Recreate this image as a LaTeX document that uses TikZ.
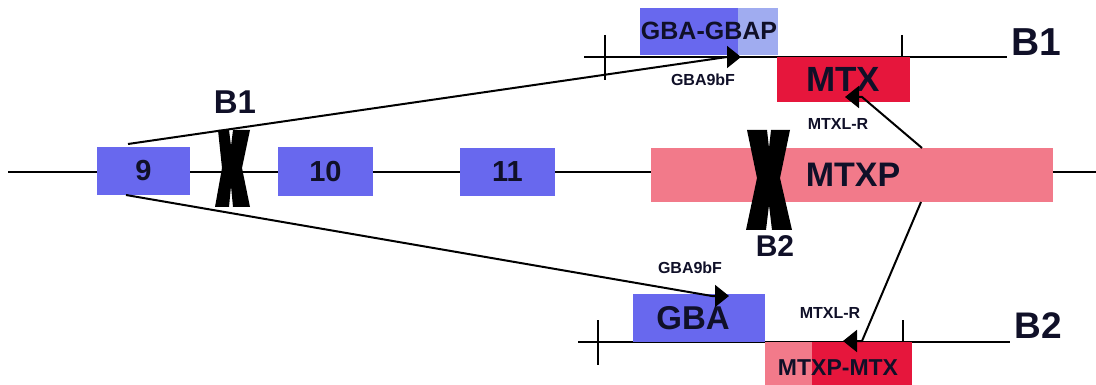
\documentclass[tikz,border=0pt]{standalone}
\usepackage{fontspec}
\setmainfont{Liberation Sans}
\usetikzlibrary{arrows.meta}
\definecolor{exonblue}{RGB}{104,104,238}
\definecolor{paleblue}{RGB}{160,172,240}
\definecolor{mtxppink}{RGB}{242,122,138}
\definecolor{mtxred}{RGB}{230,22,60}
\definecolor{ink}{RGB}{16,16,40}
\begin{document}
\begin{tikzpicture}[x=1pt,y=-1pt,
  box/.style={draw=none,inner sep=0pt,outer sep=0pt,font=\bfseries,text=ink},
  lbl/.style={inner sep=0pt,font=\bfseries,text=ink},
  rail/.style={line width=2pt},
  tick/.style={line width=1.1pt},
  link/.style={line width=2pt},
  bigtip/.style={-{Triangle[length=14pt,width=22pt]}},
  cross/.style={fill=black}]
\useasboundingbox (0,0) rectangle (1096,385);

% genomic line
\coordinate (L0) at (8,172);
\coordinate (L1) at (1096,172);
\draw[rail] (L0) -- (L1);

% product lines B1 and B2
\coordinate (T0) at (584,57);
\coordinate (T1) at (1007,57);
\coordinate (U0) at (578,342);
\coordinate (U1) at (1010,342);
\draw[rail] (T0) -- (T1);
\draw[rail] (U0) -- (U1);
\foreach \x in {605,902} \draw[tick] (\x,35) -- (\x,80);
\foreach \x in {598,903} \draw[tick] (\x,320) -- (\x,365);

% exons
\node[box,fill=exonblue,minimum width=93pt,minimum height=48pt,font=\bfseries\fontsize{29}{29}\selectfont] (e9) at (143.5,171) {9};
\node[box,fill=exonblue,minimum width=95pt,minimum height=49pt,font=\bfseries\fontsize{29}{29}\selectfont] (e10) at (325.5,172) {10};
\node[box,fill=exonblue,minimum width=95pt,minimum height=48pt,font=\bfseries\fontsize{29}{29}\selectfont] (e11) at (507.5,172) {11};
\node[box,fill=mtxppink,minimum width=402pt,minimum height=54pt] (mtxp) at (852,175) {};
\node[lbl,font=\bfseries\fontsize{34}{34}\selectfont] (mtxpt) at (853,175) {MTXP};

% B1 product: GBA-GBAP and MTX
\node[box,fill=exonblue,minimum width=98pt,minimum height=47pt] (gbaa) at (689,31.5) {};
\node[box,fill=paleblue,minimum width=40pt,minimum height=47pt] (gbap) at (758,31.5) {};
\node[lbl,font=\bfseries\fontsize{25}{25}\selectfont] (gbagbap) at (709,31) {GBA-GBAP};
\node[box,fill=mtxred,minimum width=133pt,minimum height=45pt] (mtx) at (843.5,79.5) {};
\node[lbl,font=\bfseries\fontsize{35}{35}\selectfont] (mtxt) at (843,79) {MTX};

% B2 product: GBA and MTXP-MTX
\node[box,fill=exonblue,minimum width=132pt,minimum height=48pt] (gba) at (699,318) {};
\node[lbl,font=\bfseries\fontsize{33}{33}\selectfont] (gbat) at (693,318) {GBA};
\node[box,fill=mtxppink,minimum width=47pt,minimum height=43pt] (mpa) at (788.5,363.5) {};
\node[box,fill=mtxred,minimum width=100pt,minimum height=43pt] (mpb) at (862,363.5) {};
\node[lbl,font=\bfseries\fontsize{23}{23}\selectfont] (mpt) at (838,368) {MTXP-MTX};

% breakpoints
\fill[cross] (218,130) -- (229,130) -- (231,146) -- (233,130) -- (250,130) -- (242,168)
  -- (250,207) -- (233,207) -- (231,186) -- (229,207) -- (215,207) -- (222,168) -- cycle;
\fill[cross] (747,130) -- (767,130) -- (769,148) -- (771,130) -- (790,130) -- (780,178)
  -- (792,230) -- (772,230) -- (769,205) -- (766,230) -- (746,230) -- (757,178) -- cycle;
\node[lbl,font=\bfseries\fontsize{33}{33}\selectfont] (b1a) at (235,102) {B1};
\node[lbl,font=\bfseries\fontsize{30}{30}\selectfont] (b2a) at (775,246) {B2};
\node[lbl,font=\bfseries\fontsize{39}{39}\selectfont] (b1) at (1036,42) {B1};
\node[lbl,font=\bfseries\fontsize{37}{37}\selectfont] (b2) at (1038,326) {B2};

% primers
\coordinate (p1s) at (128,144);
\coordinate (p1k) at (727,57);
\coordinate (p1e) at (741,57);
\draw[link,bigtip] (p1s) -- (p1k) -- (p1e);
\node[lbl,font=\bfseries\fontsize{16}{16}\selectfont] (gf1) at (703,80) {GBA9bF};

\coordinate (p2s) at (126,195);
\coordinate (p2k) at (712,296);
\coordinate (p2e) at (729,296);
\draw[link,bigtip] (p2s) -- (p2k) -- (p2e);
\node[lbl,font=\bfseries\fontsize{16}{16}\selectfont] (gf2) at (690,268) {GBA9bF};

\coordinate (r1s) at (922,148);
\coordinate (r1k) at (862,97);
\coordinate (r1e) at (845,97);
\draw[link,bigtip] (r1s) -- (r1k) -- (r1e);
\node[lbl,font=\bfseries\fontsize{16}{16}\selectfont] (mr1) at (838,124) {MTXL-R};

\coordinate (r2s) at (921,202);
\coordinate (r2k) at (862,341);
\coordinate (r2e) at (843,341);
\draw[link,bigtip] (r2s) -- (r2k) -- (r2e);
\node[lbl,font=\bfseries\fontsize{16}{16}\selectfont] (mr2) at (830,313) {MTXL-R};
\end{tikzpicture}
\end{document}
